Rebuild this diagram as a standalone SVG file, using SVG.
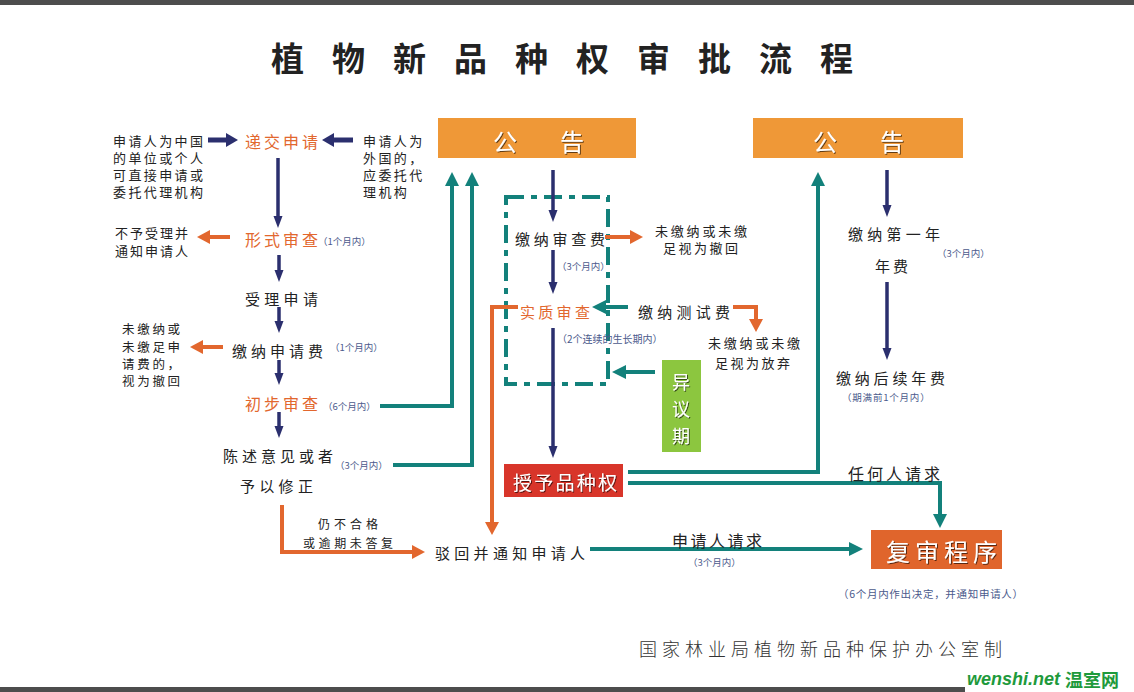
<svg xmlns="http://www.w3.org/2000/svg" width="1134" height="692" viewBox="0 0 1134 692">
<style>
.t{font-family:"Noto Sans CJK SC","Noto Sans",sans-serif;dominant-baseline:central;fill:#222}
.b15{font-size:15px}
.b13{font-size:13px}
.org{font-size:16px;fill:#E2672E}
.sm{font-size:9.5px;fill:#4B5A8C}
.wt{fill:#fff;filter:url(#sh)}
.nv{fill:none;stroke:#2B2F6E;stroke-width:3.5}
.nvk{fill:none;stroke:#2B2F6E;stroke-width:5}
.og{fill:none;stroke:#E2672E;stroke-width:4}
.tl{fill:none;stroke:#13817B;stroke-width:4}
</style>
<defs>
<filter id="sh" x="-20%" y="-20%" width="140%" height="140%"><feDropShadow dx="1" dy="1" stdDeviation="0.6" flood-color="#000" flood-opacity="0.6"/></filter>
<marker id="mn" markerUnits="userSpaceOnUse" markerWidth="14" markerHeight="14" refX="0" refY="7" orient="auto" overflow="visible"><path d="M0,2.5 L12,7 L0,11.5 z" fill="#2B2F6E"/></marker>
<marker id="mnk" markerUnits="userSpaceOnUse" markerWidth="14" markerHeight="16" refX="0" refY="8" orient="auto" overflow="visible"><path d="M0,1 L12,8 L0,15 z" fill="#2B2F6E"/></marker>
<marker id="mo" markerUnits="userSpaceOnUse" markerWidth="14" markerHeight="16" refX="0" refY="8" orient="auto" overflow="visible"><path d="M0,1 L13,8 L0,15 z" fill="#E2672E"/></marker>
<marker id="mt" markerUnits="userSpaceOnUse" markerWidth="14" markerHeight="16" refX="0" refY="8" orient="auto" overflow="visible"><path d="M0,1 L14,8 L0,15 z" fill="#13817B"/></marker>
</defs>
<rect width="1134" height="692" fill="#fff"/>
<rect x="0" y="0" width="1134" height="5" fill="#4d4d4d"/>
<rect x="0" y="687" width="965" height="5" fill="#4d4d4d"/>
<text class="t" x="271" y="57" style="font-size:33px;font-weight:bold;letter-spacing:28px">植物新品种权审批流程</text>

<g id="connectors">
<rect x="506" y="197" width="102" height="187" fill="none" stroke="#13817B" stroke-width="4" stroke-dasharray="18 7 6 7"/>
<path class="nv" d="M278,158 V216" marker-end="url(#mn)"/>
<path class="nv" d="M279,255 V270" marker-end="url(#mn)"/>
<path class="nv" d="M279,307 V321" marker-end="url(#mn)"/>
<path class="nv" d="M279,360 V373" marker-end="url(#mn)"/>
<path class="nv" d="M279,412 V426" marker-end="url(#mn)"/>
<path class="nv" d="M553,170 V210" marker-end="url(#mn)"/>
<path class="nv" d="M553,250 V282" marker-end="url(#mn)"/>
<path class="nv" d="M553,328 V446" marker-end="url(#mn)"/>
<path class="nv" d="M887,170 V205" marker-end="url(#mn)"/>
<path class="nv" d="M887,282 V348" marker-end="url(#mn)"/>
<path class="nvk" d="M208,140 H226" marker-end="url(#mnk)"/>
<path class="nvk" d="M353,140 H334" marker-end="url(#mnk)"/>
<path class="og" d="M230,237 H210" marker-end="url(#mo)"/>
<path class="og" d="M223,347 H203" marker-end="url(#mo)"/>
<path class="og" d="M282,505 V552 H412" marker-end="url(#mo)"/>
<path class="og" d="M605,237 H630" marker-end="url(#mo)"/>
<path class="og" d="M733,307 H756 V319" marker-end="url(#mo)"/>
<path class="og" d="M518,307 H492 V522" marker-end="url(#mo)"/>
<path class="tl" d="M380,406 H452 V186" marker-end="url(#mt)"/>
<path class="tl" d="M393,465 H472 V186" marker-end="url(#mt)"/>
<path class="tl" d="M628,307 H606" marker-end="url(#mt)"/>
<path class="tl" d="M655,372 H626" marker-end="url(#mt)"/>
<path class="tl" d="M628,472 H818 V186" marker-end="url(#mt)"/>
<path class="tl" d="M628,483 H940 V514" marker-end="url(#mt)"/>
<path class="tl" d="M590,549 H849" marker-end="url(#mt)"/>
</g>

<g id="n-left-note" class="t b13" style="letter-spacing:2.4px">
<text x="113" y="140">申请人为中国</text>
<text x="113" y="157">的单位或个人</text>
<text x="113" y="174">可直接申请或</text>
<text x="113" y="191">委托代理机构</text>
</g>
<g id="n-submit"><text class="t org" x="245" y="141" style="letter-spacing:3px">递交申请</text></g>
<g id="n-foreign" class="t b13" style="letter-spacing:2.4px">
<text x="363" y="140">申请人为</text>
<text x="363" y="157">外国的，</text>
<text x="363" y="174">应委托代</text>
<text x="363" y="191">理机构</text>
</g>
<g id="n-formal">
<text class="t org" x="245" y="239" style="letter-spacing:3px">形式审查</text>
<text class="t sm" x="318" y="241">（1个月内）</text>
</g>
<g id="n-reject1" class="t b13" style="letter-spacing:2px">
<text x="115" y="232">不予受理并</text>
<text x="115" y="250">通知申请人</text>
</g>
<g id="n-accept"><text class="t b15" x="245" y="298" style="letter-spacing:4.3px">受理申请</text></g>
<g id="n-fee">
<text class="t b15" x="232" y="350" style="letter-spacing:4px">缴纳申请费</text>
<text class="t sm" x="330" y="347">（1个月内）</text>
</g>
<g id="n-withdraw1" class="t" style="font-size:12.5px;letter-spacing:2.7px">
<text x="122" y="328">未缴纳或</text>
<text x="122" y="346">未缴足申</text>
<text x="122" y="363">请费的，</text>
<text x="122" y="380">视为撤回</text>
</g>
<g id="n-prelim">
<text class="t org" x="245" y="403" style="letter-spacing:3px">初步审查</text>
<text class="t sm" x="323" y="406">（6个月内）</text>
</g>
<g id="n-state">
<text class="t b15" x="223" y="455" style="letter-spacing:4px">陈述意见或者</text>
<text class="t sm" x="335" y="465">（3个月内）</text>
<text class="t b15" x="240" y="485" style="letter-spacing:4.3px">予以修正</text>
</g>
<g id="n-fail" class="t" style="font-size:12px">
<text x="318" y="523" style="letter-spacing:4px">仍不合格</text>
<text x="303" y="542" style="letter-spacing:3.6px">或逾期未答复</text>
</g>
<g id="n-reject2"><text class="t b15" x="435" y="552" style="letter-spacing:4.3px">驳回并通知申请人</text></g>
<g id="n-request">
<text class="t" x="672" y="540" style="font-size:16px;letter-spacing:2.5px">申请人请求</text>
<text class="t sm" x="688" y="562">（3个月内）</text>
</g>
<g id="n-pub1">
<rect x="438" y="118" width="198" height="40" fill="#EF9837"/>
<text class="t wt" x="505" y="140" text-anchor="middle" style="font-size:24px">公</text>
<text class="t wt" x="572" y="140" text-anchor="middle" style="font-size:24px">告</text>
</g>
<g id="n-examfee">
<text class="t b15" x="515" y="238" style="letter-spacing:3.75px">缴纳审查费</text>
<text class="t sm" x="557" y="266">（3个月内）</text>
</g>
<g id="n-withdraw2" class="t b13">
<text x="655" y="230" style="letter-spacing:2.8px">未缴纳或未缴</text>
<text x="663" y="247" style="letter-spacing:2.5px">足视为撤回</text>
</g>
<g id="n-subst">
<text class="t" x="520" y="311" style="font-size:15px;fill:#E2672E;letter-spacing:3.3px">实质审查</text>
<text class="t sm" x="557" y="338" style="font-size:10px">（2个连续的生长期内）</text>
</g>
<g id="n-testfee"><text class="t b15" x="638" y="311" style="letter-spacing:4.25px">缴纳测试费</text></g>
<g id="n-abandon" class="t b13">
<text x="708" y="342" style="letter-spacing:2.8px">未缴纳或未缴</text>
<text x="715" y="362" style="letter-spacing:2.5px">足视为放弃</text>
</g>
<g id="n-objection">
<rect x="662" y="360" width="39" height="92" fill="#8CC63F"/>
<text class="t wt" x="681" y="381" text-anchor="middle" style="font-size:18px">异</text>
<text class="t wt" x="681" y="408" text-anchor="middle" style="font-size:18px">议</text>
<text class="t wt" x="681" y="435" text-anchor="middle" style="font-size:18px">期</text>
</g>
<g id="n-grant">
<rect x="504" y="464" width="119" height="33" fill="#D8352A"/>
<text class="t wt" x="513" y="481" style="font-size:19px;letter-spacing:2.25px">授予品种权</text>
</g>
<g id="n-anyone"><text class="t" x="848" y="473" style="font-size:16px;letter-spacing:3px">任何人请求</text></g>
<g id="n-pub2">
<rect x="753" y="118" width="210" height="40" fill="#EF9837"/>
<text class="t wt" x="825" y="140" text-anchor="middle" style="font-size:24px">公</text>
<text class="t wt" x="892" y="140" text-anchor="middle" style="font-size:24px">告</text>
</g>
<g id="n-firstyear">
<text class="t b15" x="848" y="233" style="letter-spacing:4.25px">缴纳第一年</text>
<text class="t b15" x="875" y="265" style="letter-spacing:3px">年费</text>
<text class="t sm" x="937" y="253">（3个月内）</text>
</g>
<g id="n-later">
<text class="t b15" x="836" y="377" style="letter-spacing:3.8px">缴纳后续年费</text>
<text class="t sm" x="842" y="397" style="letter-spacing:0.8px">（期满前1个月内）</text>
</g>
<g id="n-review">
<rect x="871" y="530" width="131" height="39" fill="#E0652C"/>
<text class="t wt" x="886" y="550" style="font-size:24px;letter-spacing:5px">复审程序</text>
<text class="t sm" x="838" y="593" style="font-size:10.5px;letter-spacing:0.7px">（6个月内作出决定，并通知申请人）</text>
</g>
<text class="t" x="639" y="648" style="font-size:18px;letter-spacing:5px;fill:#333;font-weight:300">国家林业局植物新品种保护办公室制</text>
<text x="967" y="679" style="font-family:'Liberation Sans',sans-serif;font-size:18px;font-weight:bold;font-style:italic;fill:#1E9A3C;dominant-baseline:central">wenshi.net</text>
<text class="t" x="1065" y="679" style="font-size:18px;font-weight:bold;fill:#1E9A3C">温室网</text>
</svg>
